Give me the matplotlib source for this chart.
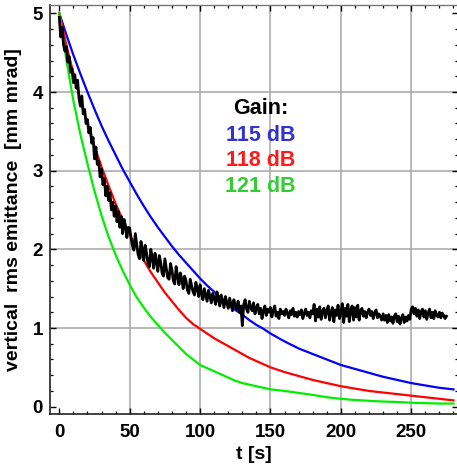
import matplotlib
matplotlib.use("Agg")
import matplotlib.pyplot as plt
from matplotlib.ticker import MultipleLocator

plt.rcParams['font.family'] = ['Liberation Sans', 'DejaVu Sans']
plt.rcParams['font.weight'] = 'bold'

# Model curves for three feedback gains (time in s, emittance in mm mrad)
t_model = [0, 5, 10, 15, 20, 25, 30, 35, 40, 45, 50, 55, 60, 65, 70, 75, 80,
           85, 90, 95, 100, 105, 110, 115, 120, 125, 130, 135, 140, 145, 150,
           160, 170, 180, 190, 200, 210, 220, 230, 240, 250, 260, 270, 280]
eps_115 = [5.00, 4.73, 4.47, 4.23, 4.00, 3.78, 3.57, 3.38, 3.20, 3.02, 2.86,
           2.70, 2.55, 2.41, 2.28, 2.16, 2.04, 1.93, 1.83, 1.73, 1.63, 1.54,
           1.46, 1.38, 1.30, 1.23, 1.17, 1.10, 1.04, 0.99, 0.93,
           0.83, 0.74, 0.67, 0.60, 0.53, 0.48, 0.43, 0.38, 0.34, 0.30, 0.27,
           0.24, 0.22]
eps_118 = [5.00, 4.60, 4.24, 3.90, 3.60, 3.31, 3.05, 2.81, 2.58, 2.38, 2.19,
           2.02, 1.86, 1.71, 1.58, 1.45, 1.34, 1.23, 1.13, 1.05, 0.99, 0.93,
           0.87, 0.82, 0.77, 0.72, 0.67, 0.62, 0.58, 0.54, 0.50,
           0.44, 0.39, 0.34, 0.30, 0.26, 0.23, 0.20, 0.18, 0.16, 0.14, 0.12,
           0.10, 0.08]
eps_121 = [5.00, 4.41, 3.89, 3.46, 3.09, 2.74, 2.43, 2.16, 1.93, 1.73, 1.55,
           1.39, 1.26, 1.14, 1.04, 0.94, 0.85, 0.76, 0.67, 0.60, 0.53, 0.49,
           0.45, 0.41, 0.37, 0.33, 0.30, 0.28, 0.26, 0.24, 0.22,
           0.20, 0.175, 0.15, 0.12, 0.10, 0.085, 0.075, 0.065, 0.06, 0.05,
           0.045, 0.04, 0.04]

# Measured emittance, one sample per second starting at t = 0
eps_meas = [
    4.95, 4.70, 4.82, 4.60, 4.52, 4.58, 4.38, 4.45, 4.25, 4.30,
    4.12, 4.22, 4.05, 4.15, 3.92, 3.82, 3.95, 3.72, 3.78, 3.60,
    3.65, 3.48, 3.55, 3.35, 3.42, 3.15, 3.30, 3.08, 3.12, 2.92,
    3.02, 2.82, 2.90, 2.68, 2.80, 2.62, 2.72, 2.50, 2.60, 2.42,
    2.55, 2.35, 2.48, 2.28, 2.42, 2.20, 2.38, 2.30, 2.15, 2.28,
    2.27, 2.14, 2.04, 1.99, 2.20, 2.06, 1.93, 1.88, 2.10, 2.00,
    1.86, 2.05, 1.95, 1.82, 1.78, 2.00, 1.90, 1.76, 1.95, 1.84,
    1.72, 1.92, 1.84, 1.70, 1.66, 1.88, 1.76, 1.64, 1.62, 1.82,
    1.74, 1.60, 1.56, 1.78, 1.66, 1.55, 1.70, 1.62, 1.50, 1.66,
    1.60, 1.48, 1.44, 1.62, 1.54, 1.46, 1.42, 1.58, 1.50, 1.40,
    1.55, 1.44, 1.36, 1.50, 1.42, 1.34, 1.48, 1.40, 1.32, 1.44,
    1.38, 1.30, 1.46, 1.36, 1.28, 1.42, 1.34, 1.26, 1.40, 1.32,
    1.25, 1.38, 1.30, 1.22, 1.36, 1.28, 1.24, 1.34, 1.20, 1.28,
    1.03, 1.30, 1.36, 1.24, 1.20, 1.34, 1.26, 1.22, 1.32, 1.18,
    1.26, 1.30, 1.18, 1.25, 1.12, 1.22, 1.28, 1.16, 1.24, 1.20,
    1.26, 1.14, 1.22, 1.28, 1.15, 1.20, 1.12, 1.24, 1.18, 1.21,
    1.16, 1.24, 1.19, 1.13, 1.22, 1.17, 1.25, 1.15, 1.20, 1.14,
    1.21, 1.17, 1.23, 1.12, 1.19, 1.24, 1.16, 1.20, 1.13, 1.22,
    1.18, 1.30, 1.09, 1.24, 1.14, 1.27, 1.11, 1.21, 1.25, 1.13,
    1.22, 1.28, 1.10, 1.20, 1.26, 1.08, 1.23, 1.16, 1.29, 1.12,
    1.19, 1.31, 1.07, 1.25, 1.15, 1.30, 1.08, 1.23, 1.28, 1.10,
    1.26, 1.14, 1.29, 1.10, 1.22, 1.25, 1.15, 1.21, 1.13, 1.20,
    1.24, 1.16, 1.21, 1.12, 1.19, 1.23, 1.13, 1.18, 1.15, 1.10,
    1.18, 1.10, 1.16, 1.07, 1.17, 1.09, 1.14, 1.06, 1.15, 1.18,
    1.08, 1.15, 1.05, 1.13, 1.17, 1.07, 1.14, 1.09, 1.16, 1.11,
    1.24, 1.27, 1.18, 1.25, 1.15, 1.23, 1.12, 1.21, 1.24, 1.14,
    1.22, 1.11, 1.19, 1.24, 1.13, 1.20, 1.12, 1.22, 1.16, 1.14,
    1.20, 1.13, 1.19, 1.16, 1.12, 1.15,
]
t_meas = list(range(len(eps_meas)))

gain_labels = ["115 dB", "118 dB", "121 dB"]
line_colors = ["#0000ff", "#ff0000", "#00ee00"]
text_colors = ["#3333cc", "#ff1a1a", "#33cc33"]

x_major = [0, 50, 100, 150, 200, 250]
y_major = [0, 1, 2, 3, 4, 5]

fig = plt.figure(figsize=(4.57, 4.73), dpi=100)
ax = fig.add_axes([50 / 457, 1 - 414 / 473, 408 / 457, 409 / 473])

for xv in x_major[1:]:
    ax.axvline(xv, color="#a6a6a6", lw=1.1, zorder=0)
for yv in y_major[1:-1]:
    ax.axhline(yv, color="#a6a6a6", lw=1.1, zorder=0)

for eps, col in zip([eps_115, eps_118, eps_121], line_colors):
    ax.plot(t_model, eps, color=col, lw=1.6, zorder=2)
ax.plot(t_meas, eps_meas, color="black", lw=2.0, zorder=3)

ax.set_xlim(-6.6, 283.2)
ax.set_ylim(-0.093, 5.106)
ax.set_xticks(x_major)
ax.set_yticks(y_major)
ax.xaxis.set_minor_locator(MultipleLocator(10))
ax.yaxis.set_minor_locator(MultipleLocator(0.2))
ax.tick_params(which="both", direction="in", top=True, right=True,
               labelsize=13.5, colors="black")
ax.tick_params(which="major", length=4, width=1)
ax.tick_params(which="minor", length=2.2, width=0.9)
ax.tick_params(axis="x", pad=7)
ax.tick_params(axis="y", pad=5)
for lab in ax.get_xticklabels() + ax.get_yticklabels():
    lab.set_fontweight("bold")

for side in ["left", "bottom"]:
    ax.spines[side].set_color("#222222")
    ax.spines[side].set_linewidth(1.2)
for side in ["top", "right"]:
    ax.spines[side].set_color("#777777")
    ax.spines[side].set_linewidth(1.0)

ax.set_xlabel("t [s]", fontsize=14, fontweight="bold", labelpad=4)
ax.set_ylabel("vertical  rms emittance  [mm mrad]", fontsize=14,
              fontweight="bold", labelpad=8)

# Gain legend written as coloured text lines
fig_h = 473
fig.text(260.5 / 457, 1 - 109 / fig_h, "Gain:", color="black", fontsize=15.5,
         fontweight="bold", ha="center", va="center")
legend_y = [135.5, 160.5, 186.5]
for lab, col, py in zip(gain_labels, text_colors, legend_y):
    fig.text(260.5 / 457, 1 - py / fig_h, lab, color=col, fontsize=15.5,
             fontweight="bold", ha="center", va="center")

fig.savefig("out.png", dpi=100)
